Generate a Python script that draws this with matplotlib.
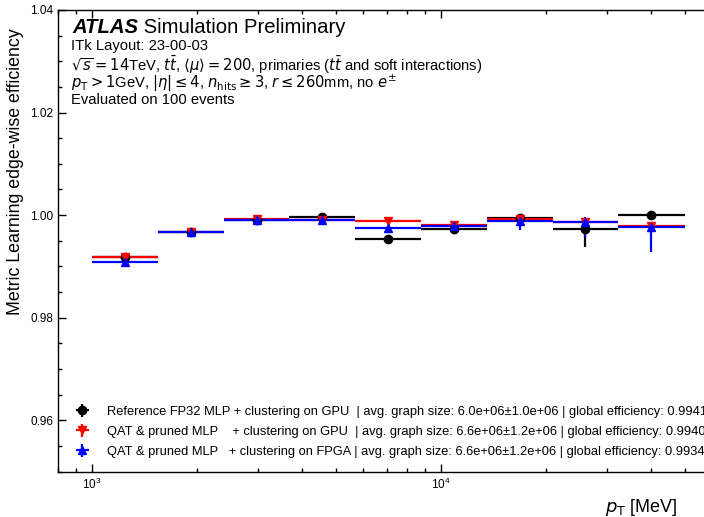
import numpy as np
import matplotlib
matplotlib.use("Agg")
import matplotlib.pyplot as plt
from matplotlib.ticker import MultipleLocator

plt.rcParams["font.family"] = ["Liberation Sans", "DejaVu Sans"]
plt.rcParams["mathtext.fontset"] = "dejavusans"

# bin edges in pT [MeV]
bin_edges = [1000, 1544, 2384, 3680, 5682, 8772, 13543, 20910, 32282, 50000]

# efficiencies per bin
eff_ref = [0.99187, 0.99669, 0.99908, 0.99955, 0.99532, 0.99727, 0.99942, 0.99727, 1.00000]
eff_qat_gpu = [0.99175, 0.99669, 0.99922, 0.99912, 0.99877, 0.99811, 0.99928, 0.99873, 0.99786]
eff_qat_fpga = [0.99078, 0.99669, 0.99908, 0.99903, 0.99747, 0.99791, 0.99877, 0.99858, 0.99772]

# errors (down, up)
err_ref_lo = [0.0002, 0.0001, 0.0001, 0.0001, 0.0003, 0.0010, 0.0003, 0.0034, 0.0]
err_ref_hi = [0.0002, 0.0001, 0.0001, 0.0001, 0.0003, 0.0008, 0.0003, 0.0015, 0.0]
err_gpu_lo = [0.0002, 0.0001, 0.0001, 0.0001, 0.0003, 0.0003, 0.0003, 0.0012, 0.0015]
err_gpu_hi = [0.0002, 0.0001, 0.0001, 0.0001, 0.0003, 0.0003, 0.0003, 0.0008, 0.0008]
err_fpga_lo = [0.0002, 0.0001, 0.0001, 0.0001, 0.0003, 0.0004, 0.0017, 0.0029, 0.0049]
err_fpga_hi = [0.0002, 0.0001, 0.0001, 0.0001, 0.0003, 0.0004, 0.0008, 0.0010, 0.0010]

labels = [
    "Reference FP32 MLP + clustering on GPU  | avg. graph size: 6.0e+06\u00b11.0e+06 | global efficiency: 0.9941",
    "QAT & pruned MLP    + clustering on GPU  | avg. graph size: 6.6e+06\u00b11.2e+06 | global efficiency: 0.9940",
    "QAT & pruned MLP   + clustering on FPGA | avg. graph size: 6.6e+06\u00b11.2e+06 | global efficiency: 0.9934",
]

edges = np.array(bin_edges, dtype=float)
centers = np.sqrt(edges[:-1] * edges[1:])
xerr = [centers - edges[:-1], edges[1:] - centers]

fig = plt.figure(figsize=(7.04, 5.17), dpi=100)
# axes runs past the right edge of the figure like in the original
ax = fig.add_axes([58.3 / 704, 45.3 / 517, 731.2 / 704, 461.8 / 517])

series = [
    (eff_ref, err_ref_lo, err_ref_hi, "o", "black", labels[0]),
    (eff_qat_gpu, err_gpu_lo, err_gpu_hi, "v", "red", labels[1]),
    (eff_qat_fpga, err_fpga_lo, err_fpga_hi, "^", "blue", labels[2]),
]
for eff, lo, hi, mk, col, lab in series:
    ax.errorbar(centers, eff, xerr=xerr, yerr=[lo, hi], fmt=mk, color=col,
                ms=6, elinewidth=1.6, capsize=0, label=lab)

ax.set_xscale("log")
ax.set_xlim(800, 1e5)
ax.set_ylim(0.95, 1.04)
ax.yaxis.set_major_locator(MultipleLocator(0.02))
ax.yaxis.set_minor_locator(MultipleLocator(0.005))
ax.yaxis.set_major_formatter(plt.FormatStrFormatter("%.2f"))
ax.tick_params(which="both", direction="in", top=True, right=True, labelsize=8.5, width=1)
ax.tick_params(which="major", length=6)
ax.tick_params(which="minor", length=3)
for sp in ax.spines.values():
    sp.set_linewidth(1)

ax.set_ylabel("Metric Learning edge-wise efficiency", fontsize=12.8, loc="top")
ax.yaxis.set_label_coords(-0.047, 0.961)
fig.text(677.5 / 704, 1 - 512 / 517, r"$p_{\mathrm{T}}$ [MeV]", fontsize=13,
         ha="right", va="baseline")

# ATLAS label block
t = fig.text(72.5 / 704, 1 - 33.3 / 517, "ATLAS", fontsize=14.6, fontweight="bold",
             fontstyle="italic", va="baseline")
ax.annotate(" Simulation Preliminary", xy=(1, 0), xycoords=t, fontsize=14.6, va="bottom")

info = [
    ("ITk Layout: 23-00-03", 50),
    (r"$\sqrt{s}=14$TeV, $t\bar{t}$, $\langle\mu\rangle=200$, primaries ($t\bar{t}$ and soft interactions)", 70.5),
    (r"$p_{\mathrm{T}} > 1$GeV, $|\eta| \leq 4$, $n_{\mathrm{hits}} \geq 3$, $r \leq 260$mm, no $e^{\pm}$", 87.7),
    ("Evaluated on 100 events", 104.3),
]
for txt, ypx in info:
    fig.text(71 / 704, 1 - ypx / 517, txt, fontsize=10.6, va="baseline")

ax.legend(loc="lower left", bbox_to_anchor=(0.024, 0.03), frameon=False,
          fontsize=9.3, handlelength=1.0, handletextpad=1.4, labelspacing=0.62,
          borderpad=0, borderaxespad=0)

fig.savefig("out.png", dpi=100)
